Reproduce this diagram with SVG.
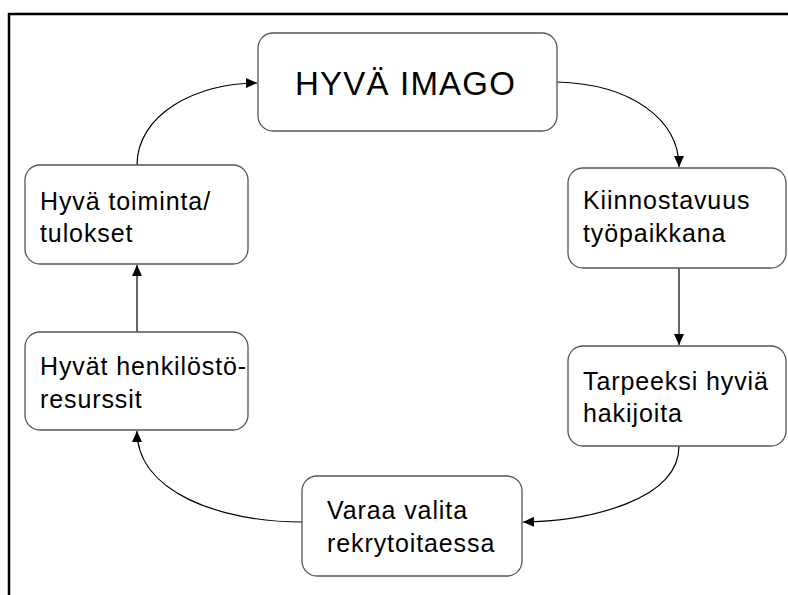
<svg xmlns="http://www.w3.org/2000/svg" width="788" height="595" viewBox="0 0 788 595">
<style>
.box{fill:#fff;stroke:#555;stroke-width:1.3}
.t{font-family:"Liberation Sans",Arial,sans-serif;font-size:25px;letter-spacing:0.9px;fill:#000}
.big{font-family:"Liberation Sans",Arial,sans-serif;font-size:33px;letter-spacing:1.2px;fill:#000}
.c{fill:none;stroke:#000;stroke-width:1.2}
</style>
<defs>
<marker id="ah" markerUnits="userSpaceOnUse" markerWidth="12" markerHeight="10" refX="11" refY="5" orient="auto">
<path d="M0,0 L11,5 L0,10 Z" fill="#000"/>
</marker>
</defs>
<rect width="788" height="595" fill="#fff"/>
<path d="M9,595 V14 H788" fill="none" stroke="#000" stroke-width="2.5"/>
<g id="connectors">
<path class="c" d="M557,82 C632,84 679,120 679,167" marker-end="url(#ah)"/>
<path class="c" d="M679,268 L679,345" marker-end="url(#ah)"/>
<path class="c" d="M679,446 C679,500 590,521 523,522" marker-end="url(#ah)"/>
<path class="c" d="M302,522 C220,522 137,492 137,431" marker-end="url(#ah)"/>
<path class="c" d="M137,332 L137,265" marker-end="url(#ah)"/>
<path class="c" d="M137,165 C137,115 195,83 257,83" marker-end="url(#ah)"/>
</g>
<g id="n-imago">
<rect class="box" x="258" y="33" width="299" height="98" rx="15"/>
<text class="big" x="295" y="95">HYVÄ IMAGO</text>
</g>
<g id="n-kiinnostavuus">
<rect class="box" x="568" y="168" width="218" height="100" rx="15"/>
<text class="t" x="583" y="209">Kiinnostavuus</text>
<text class="t" x="583" y="242">työpaikkana</text>
</g>
<g id="n-tarpeeksi">
<rect class="box" x="568" y="346" width="218" height="100" rx="15"/>
<text class="t" x="583" y="390">Tarpeeksi hyviä</text>
<text class="t" x="583" y="422">hakijoita</text>
</g>
<g id="n-varaa">
<rect class="box" x="302" y="476" width="220" height="100" rx="15"/>
<text class="t" x="327" y="519">Varaa valita</text>
<text class="t" x="327" y="552">rekrytoitaessa</text>
</g>
<g id="n-henkilosto">
<rect class="box" x="25" y="332" width="223" height="98" rx="15"/>
<text class="t" x="40" y="375">Hyvät henkilöstö-</text>
<text class="t" x="40" y="408">resurssit</text>
</g>
<g id="n-toiminta">
<rect class="box" x="25" y="165" width="223" height="99" rx="15"/>
<text class="t" x="40" y="210">Hyvä toiminta/</text>
<text class="t" x="40" y="242">tulokset</text>
</g>
</svg>
